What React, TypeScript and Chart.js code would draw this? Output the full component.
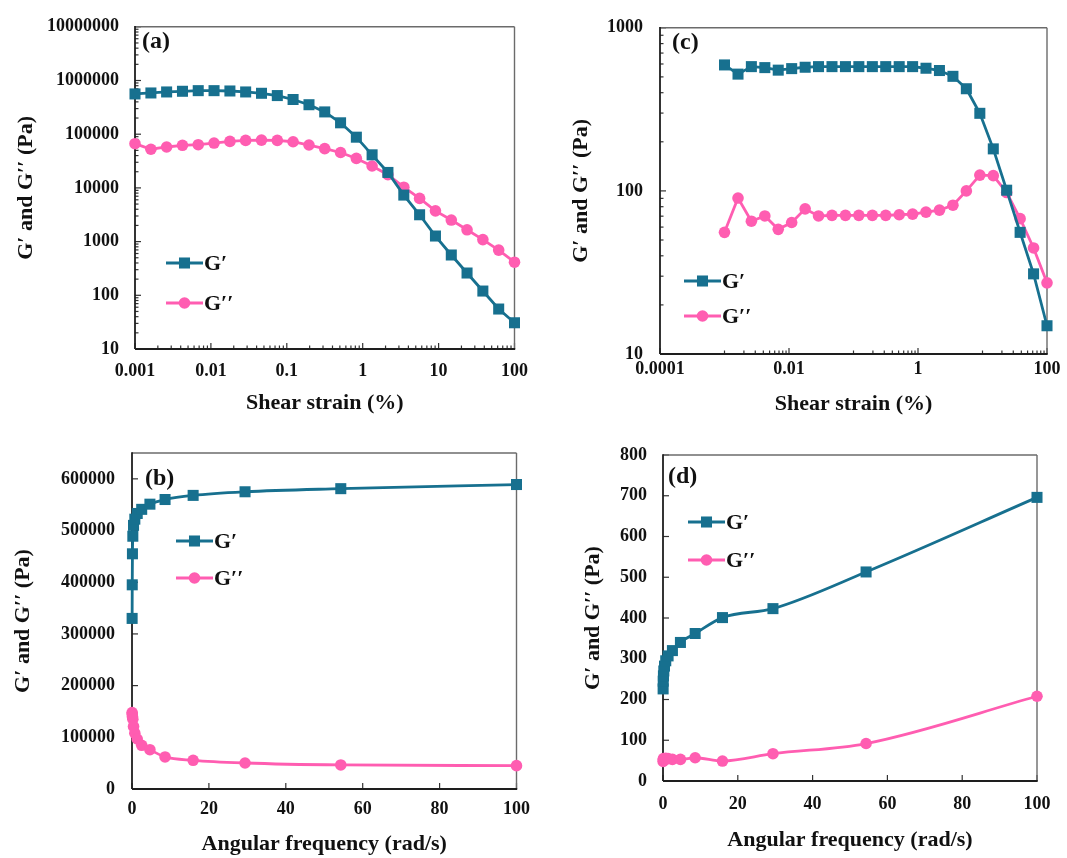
import React, { useEffect, useRef } from "react";
import { Chart, registerables } from "chart.js";
Chart.register(...registerables);

const TEAL = "#17708f";
const PINK = "#ff5db1";
const FONT = "'Liberation Serif', 'Times New Roman', serif";

// ---------- data ----------
// strain sweeps (a) and (c), shear strain in %
const strain = [0.001, 0.00162, 0.00261, 0.00422, 0.00681, 0.011, 0.0178, 0.0287, 0.0464, 0.075, 0.121, 0.196, 0.316, 0.511, 0.825, 1.33, 2.15, 3.48, 5.62, 9.09, 14.7, 23.7, 38.3, 61.9, 100];
const aGp = [562000, 586000, 612000, 630000, 647000, 647000, 638000, 612000, 578000, 524000, 443000, 354000, 260000, 163000, 88000, 41300, 19400, 7350, 3160, 1270, 563, 260, 120, 55.5, 30.8];
const aGpp = [66600, 52500, 57800, 62100, 63800, 68400, 73400, 76600, 77600, 76600, 72400, 62900, 53900, 45600, 35400, 25600, 17600, 10300, 6380, 3740, 2520, 1660, 1090, 695, 413];
const cGp = [592, 520, 578, 570, 550, 562, 573, 578, 578, 578, 578, 578, 578, 578, 578, 565, 547, 504, 423, 299, 181, 101, 55.7, 31, 14.9];
const cGpp = [55.7, 90.4, 65.2, 70.2, 58.1, 64, 77.6, 70.2, 70.8, 70.8, 70.8, 70.8, 70.8, 71.4, 72, 74.1, 76.2, 81.7, 100, 125, 124, 97.7, 67.6, 44.7, 27.3];
// frequency sweeps (b) and (d), angular frequency in rad/s
const freq = [0.034, 0.063, 0.116, 0.215, 0.4, 0.735, 1.36, 2.52, 4.66, 8.6, 15.9, 29.4, 54.3, 100];
const bGp = [330000, 395000, 455000, 489000, 510000, 522000, 533000, 541000, 551000, 560000, 568000, 575000, 581000, 589000];
const bGpp = [148000, 145000, 140000, 135000, 121000, 108000, 96700, 84500, 76000, 62000, 55500, 50300, 46500, 45200];
const dGp = [226, 245, 258, 270, 282, 295, 307, 320, 340, 362, 401, 423, 513, 696];
const dGpp = [48, 52, 55, 53, 54, 56, 55, 53, 53, 57, 49, 67, 92, 208];

// ---------- tick labels ----------
const aXTicks = [0.001, 0.01, 0.1, 1, 10, 100];
const aXLabels = ["0.001", "0.01", "0.1", "1", "10", "100"];
const aYTicks = [10, 100, 1000, 10000, 100000, 1000000, 10000000];
const aYLabels = ["10", "100", "1000", "10000", "100000", "1000000", "10000000"];
const cXTicks = [0.0001, 0.01, 1, 100];
const cXLabels = ["0.0001", "0.01", "1", "100"];
const cYTicks = [10, 100, 1000];
const cYLabels = ["10", "100", "1000"];
const fXTicks = [0, 20, 40, 60, 80, 100];
const fXLabels = ["0", "20", "40", "60", "80", "100"];
const bYTicks = [0, 100000, 200000, 300000, 400000, 500000, 600000];
const bYLabels = ["0", "100000", "200000", "300000", "400000", "500000", "600000"];
const dYTicks = [0, 100, 200, 300, 400, 500, 600, 700, 800];
const dYLabels = ["0", "100", "200", "300", "400", "500", "600", "700", "800"];

const X_STRAIN = "Shear strain (%)";
const X_FREQ = "Angular frequency (rad/s)";
const Y_TITLE = "G\u2032 and G\u2032\u2032 (Pa)";
const L_GP = "G\u2032";
const L_GPP = "G\u2032\u2032";

function minorTicks(exps: number[], mults: number[]) {
  const out: number[] = [];
  exps.forEach((e) => mults.forEach((m) => out.push(m * Math.pow(10, e))));
  return out;
}
const M29 = [2, 3, 4, 5, 6, 7, 8, 9];
const M19 = [1, 2, 3, 4, 5, 6, 7, 8, 9];

type Panel = {
  key: string;
  left: number; top: number; w: number; h: number;
  plot: { left: number; right: number; top: number; bottom: number };
  xType: "logarithmic" | "linear"; yType: "logarithmic" | "linear";
  xMin: number; xMax: number; yMin: number; yMax: number;
  xTicks: number[]; xLabels: string[]; yTicks: number[]; yLabels: string[];
  xMinor: number[]; yMinor: number[];
  x: number[]; gp: number[]; gpp: number[];
  smooth: boolean;
  xTitle: string;
  xTitlePad: number; yTitlePad: number; xTickPad: number; yTickPad: number;
  tag: string; tagX: number; tagY: number;
  legX: number; legY1: number; legY2: number;
};

const panels: Panel[] = [
  {
    key: "a", left: 0, top: 0, w: 540, h: 425,
    plot: { left: 135, right: 515, top: 21, bottom: 349 },
    xType: "logarithmic", yType: "logarithmic",
    xMin: 0.001, xMax: 100, yMin: 10, yMax: 10000000,
    xTicks: aXTicks, xLabels: aXLabels, yTicks: aYTicks, yLabels: aYLabels,
    xMinor: minorTicks([-3, -2, -1, 0, 1], M29), yMinor: minorTicks([1, 2, 3, 4, 5, 6], M29),
    x: strain, gp: aGp, gpp: aGpp, smooth: false,
    xTitle: X_STRAIN, xTitlePad: 8, yTitlePad: 13, xTickPad: 12, yTickPad: 16,
    tag: "(a)", tagX: 142, tagY: 42,
    legX: 166, legY1: 263, legY2: 303,
  },
  {
    key: "c", left: 540, top: 0, w: 527, h: 425,
    plot: { left: 120, right: 507, top: 21, bottom: 354 },
    xType: "logarithmic", yType: "logarithmic",
    xMin: 0.0001, xMax: 100, yMin: 10, yMax: 1000,
    xTicks: cXTicks, xLabels: cXLabels, yTicks: cYTicks, yLabels: cYLabels,
    xMinor: minorTicks([-3, -1, 1], M19), yMinor: minorTicks([1, 2], M29),
    x: strain, gp: cGp, gpp: cGpp, smooth: false,
    xTitle: X_STRAIN, xTitlePad: 7, yTitlePad: 28, xTickPad: 5, yTickPad: 17,
    tag: "(c)", tagX: 132, tagY: 43,
    legX: 144, legY1: 281, legY2: 316,
  },
  {
    key: "b", left: 0, top: 425, w: 540, h: 433,
    plot: { left: 132, right: 518, top: 28, bottom: 364 },
    xType: "linear", yType: "linear",
    xMin: 0, xMax: 100, yMin: 0, yMax: 650000,
    xTicks: fXTicks, xLabels: fXLabels, yTicks: bYTicks, yLabels: bYLabels,
    xMinor: [], yMinor: [],
    x: freq, gp: bGp, gpp: bGpp, smooth: true,
    xTitle: X_FREQ, xTitlePad: 0, yTitlePad: 10, xTickPad: 10, yTickPad: 17,
    tag: "(b)", tagX: 145, tagY: 54,
    legX: 176, legY1: 116, legY2: 153,
  },
  {
    key: "d", left: 540, top: 425, w: 527, h: 433,
    plot: { left: 123, right: 497, top: 30, bottom: 356 },
    xType: "linear", yType: "linear",
    xMin: 0, xMax: 100, yMin: 0, yMax: 800,
    xTicks: fXTicks, xLabels: fXLabels, yTicks: dYTicks, yLabels: dYLabels,
    xMinor: [], yMinor: [],
    x: freq, gp: dGp, gpp: dGpp, smooth: true,
    xTitle: X_FREQ, xTitlePad: 4, yTitlePad: 40, xTickPad: 13, yTickPad: 16,
    tag: "(d)", tagX: 128, tagY: 52,
    legX: 148, legY1: 97, legY2: 135,
  },
];

const SQ_R = 7.8;
const CI_R = 5.8;

function drawMarker(ctx: CanvasRenderingContext2D, style: string, x: number, y: number, color: string) {
  ctx.fillStyle = color;
  if (style === "rect") {
    const s = Math.SQRT1_2 * SQ_R;
    ctx.fillRect(x - s, y - s, 2 * s, 2 * s);
  } else {
    ctx.beginPath();
    ctx.arc(x, y, CI_R, 0, Math.PI * 2);
    ctx.fill();
  }
}

function makeFrame(p: Panel) {
  return {
    id: "frame_" + p.key,
    beforeDatasetsDraw(chart: any) {
      const { ctx, chartArea: a, scales } = chart;
      const xs = scales.x, ys = scales.y;
      ctx.save();
      ctx.strokeStyle = "#333";
      ctx.lineWidth = 1.2;
      const seg = (x1: number, y1: number, x2: number, y2: number) => {
        ctx.beginPath(); ctx.moveTo(x1, y1); ctx.lineTo(x2, y2); ctx.stroke();
      };
      p.xTicks.forEach((v) => { const px = xs.getPixelForValue(v); seg(px, a.bottom, px, a.bottom - 6); });
      p.xMinor.forEach((v) => { if (v > p.xMin && v < p.xMax) { const px = xs.getPixelForValue(v); seg(px, a.bottom, px, a.bottom - 3.5); } });
      p.yTicks.forEach((v) => { const py = ys.getPixelForValue(v); seg(a.left, py, a.left + 6, py); });
      p.yMinor.forEach((v) => { if (v > p.yMin && v < p.yMax) { const py = ys.getPixelForValue(v); seg(a.left, py, a.left + 3.5, py); } });
      // box
      ctx.strokeStyle = "#6b6b6b";
      ctx.lineWidth = 1.4;
      seg(a.left, a.top, a.right, a.top);
      seg(a.right, a.top, a.right, a.bottom);
      ctx.strokeStyle = "#1e1e1e";
      ctx.lineWidth = 1.8;
      seg(a.left, a.top - 0.7, a.left, a.bottom);
      seg(a.left, a.bottom, a.right + 0.7, a.bottom);
      ctx.restore();
    },
    afterDatasetsDraw(chart: any) {
      const { ctx } = chart;
      ctx.save();
      ctx.fillStyle = "#111";
      ctx.font = `bold 24px ${FONT}`;
      ctx.textAlign = "left";
      ctx.textBaseline = "middle";
      ctx.fillText(p.tag, p.tagX, p.tagY);
      const entries = [
        { y: p.legY1, color: TEAL, style: "rect", label: L_GP },
        { y: p.legY2, color: PINK, style: "circle", label: L_GPP },
      ];
      entries.forEach((e) => {
        ctx.strokeStyle = e.color;
        ctx.lineWidth = 2.8;
        ctx.beginPath();
        ctx.moveTo(p.legX, e.y);
        ctx.lineTo(p.legX + 37, e.y);
        ctx.stroke();
        drawMarker(ctx, e.style, p.legX + 18.5, e.y, e.color);
        ctx.fillStyle = "#111";
        ctx.font = `bold 22px ${FONT}`;
        ctx.textBaseline = "middle";
        ctx.fillText(e.label, p.legX + 38, e.y + 1);
      });
      ctx.restore();
    },
  };
}

function PanelChart({ p }: { p: Panel }) {
  const ref = useRef<HTMLCanvasElement | null>(null);
  useEffect(() => {
    if (!ref.current) return;
    const tickFont = { family: FONT, size: 18, weight: "bold" as const };
    const titleFont = { family: FONT, size: 22, weight: "bold" as const };
    const common = (data: number[]) => data.map((v, i) => ({ x: p.x[i], y: v }));
    const chart = new Chart(ref.current, {
      type: "line",
      data: {
        datasets: [
          {
            label: L_GP,
            data: common(p.gp),
            borderColor: TEAL,
            backgroundColor: TEAL,
            borderWidth: 2.8,
            pointStyle: "rect",
            pointRadius: SQ_R,
            pointBorderWidth: 0,
            pointBackgroundColor: TEAL,
            cubicInterpolationMode: p.smooth ? "monotone" : "default",
            tension: 0,
            clip: false as any,
          },
          {
            label: L_GPP,
            data: common(p.gpp),
            borderColor: PINK,
            backgroundColor: PINK,
            borderWidth: 2.8,
            pointStyle: "circle",
            pointRadius: CI_R,
            pointBorderWidth: 0,
            pointBackgroundColor: PINK,
            cubicInterpolationMode: p.smooth ? "monotone" : "default",
            tension: 0,
            clip: false as any,
          },
        ],
      },
      options: {
        animation: false,
        responsive: false,
        maintainAspectRatio: false,
        events: [],
        layout: { padding: { left: 0, top: p.plot.top, right: p.w - p.plot.right, bottom: 0 } },
        plugins: { legend: { display: false }, tooltip: { enabled: false } },
        scales: {
          x: {
            type: p.xType,
            min: p.xMin,
            max: p.xMax,
            afterBuildTicks: (s: any) => { s.ticks = p.xTicks.map((v) => ({ value: v })); },
            afterFit: (s: any) => { s.height = p.h - p.plot.bottom; },
            ticks: {
              callback: (_v: any, i: number) => p.xLabels[i],
              font: tickFont, color: "#111", padding: p.xTickPad,
              maxRotation: 0, minRotation: 0, autoSkip: false,
            },
            grid: { display: false, drawTicks: false },
            border: { display: false },
            title: { display: true, text: p.xTitle, font: titleFont, color: "#111", padding: { top: 0, bottom: p.xTitlePad } },
          },
          y: {
            type: p.yType,
            min: p.yMin,
            max: p.yMax,
            afterBuildTicks: (s: any) => { s.ticks = p.yTicks.map((v) => ({ value: v })); },
            afterFit: (s: any) => { s.width = p.plot.left; },
            ticks: {
              callback: (_v: any, i: number) => p.yLabels[i],
              font: tickFont, color: "#111", padding: p.yTickPad, autoSkip: false,
            },
            grid: { display: false, drawTicks: false },
            border: { display: false },
            title: { display: true, text: Y_TITLE, font: titleFont, color: "#111", padding: { top: p.yTitlePad, bottom: 0 } },
          },
        },
      } as any,
      plugins: [makeFrame(p)],
    });
    return () => chart.destroy();
  }, [p]);
  return (
    <div style={{ position: "absolute", left: p.left, top: p.top, width: p.w, height: p.h }}>
      <canvas ref={ref} width={p.w} height={p.h} style={{ width: p.w, height: p.h, display: "block" }} />
    </div>
  );
}

export default function App() {
  return (
    <div style={{ position: "absolute", left: 0, top: 0, width: 1067, height: 858, background: "#fff", overflow: "hidden" }}>
      {panels.map((p) => (
        <PanelChart key={p.key} p={p} />
      ))}
    </div>
  );
}
